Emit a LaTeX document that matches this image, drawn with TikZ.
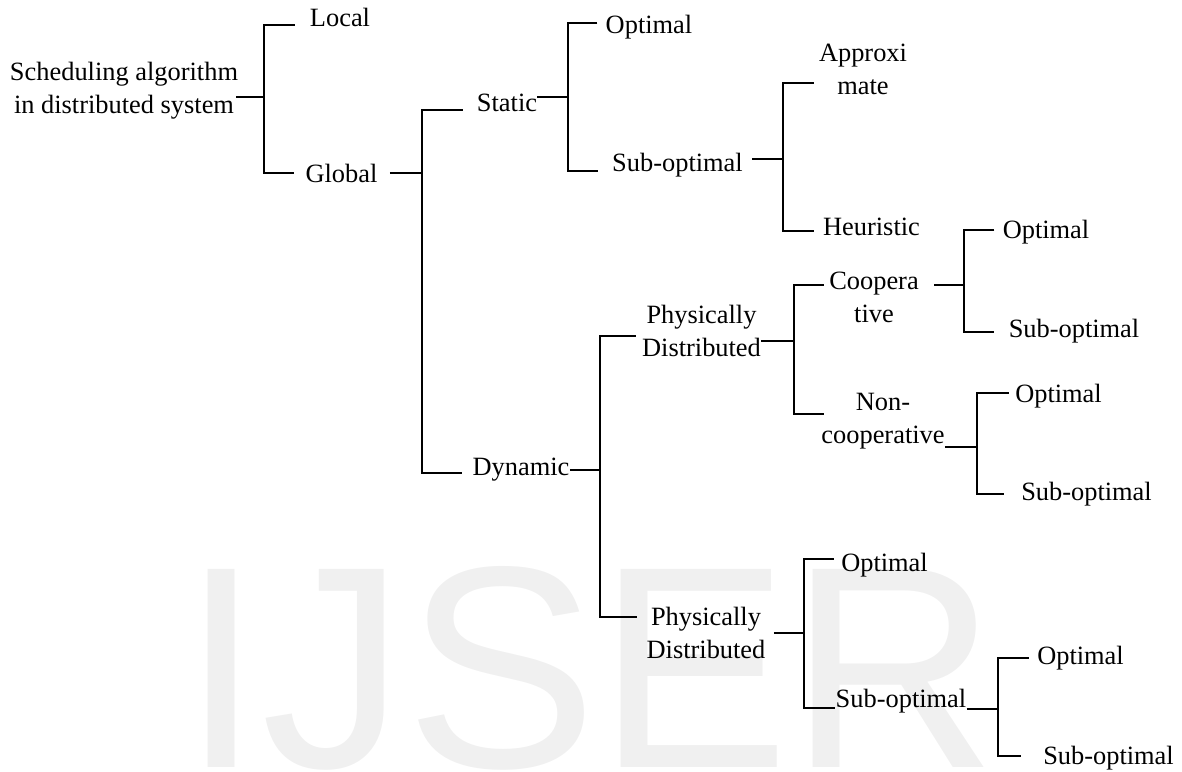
\documentclass[tikz,border=0pt]{standalone}
\usepackage{fontspec}
\setmainfont{Liberation Serif}
\newfontfamily\wmfont{Liberation Sans}

\begin{document}
\begin{tikzpicture}[x=0.5pt, y=-0.5pt,
  lbl/.style={font=\fontsize{13.2}{16.5}\selectfont, inner sep=0pt, align=center},
  link/.style={line width=0.9pt},
  wmark/.style={font=\wmfont\fontsize{144}{150}\selectfont, text=black!6, inner sep=0pt, anchor=base west}
]
  \useasboundingbox (0,0) rectangle (1182,771);

  % Watermark
  \node[wmark] (wm) at (181,767) {IJSER};

  % Root and first level
  \node[lbl] (root) at (124,90.5) {Scheduling algorithm\\in distributed system};
  \node[lbl] (local) at (340,17) {Local};
  \node[lbl] (glob) at (341.5,173) {Global};

  % Static branch
  \node[lbl] (stat) at (507,103) {Static};
  \node[lbl] (sopt) at (649,27) {Optimal};
  \node[lbl] (ssub) at (677.5,165) {Sub-optimal};
  \node[lbl] (appr) at (863,69.5) {Approxi\\mate};
  \node[lbl] (heur) at (871.5,227) {Heuristic};

  % Dynamic branch
  \node[lbl] (dyn) at (521,470) {Dynamic};
  \node[lbl] (pd1) at (701.5,330.5) {Physically\\Distributed};
  \node[lbl] (coop) at (874,297.5) {Coopera\\tive};
  \node[lbl] (ncoop) at (883,421) {Non-\\cooperative};
  \node[lbl] (copt) at (1046,232) {Optimal};
  \node[lbl] (csub) at (1074,331) {Sub-optimal};
  \node[lbl] (nopt) at (1058.5,396) {Optimal};
  \node[lbl] (nsub) at (1086.5,494) {Sub-optimal};
  \node[lbl] (pd2) at (706,632.5) {Physically\\Distributed};
  \node[lbl] (popt) at (884.5,565) {Optimal};
  \node[lbl] (psub) at (901,701) {Sub-optimal};
  \node[lbl] (qopt) at (1080.5,658) {Optimal};
  \node[lbl] (qsub) at (1108.5,758) {Sub-optimal};

  % Bracket joints
  \coordinate (jroot) at (264,97);
  \coordinate (jglob) at (422,173);
  \coordinate (jstat) at (568,97);
  \coordinate (jssub) at (783,159);
  \coordinate (jdyn) at (600,470);
  \coordinate (jpd1) at (794,341);
  \coordinate (jcoop) at (964,285);
  \coordinate (jncoop) at (977,447);
  \coordinate (jpd2) at (804,633);
  \coordinate (jpsub) at (998,709);

  % Brackets
  \draw[link] ([xshift=-1pt]root.east |- jroot) -- (jroot);
  \draw[link] ([xshift=-7.5pt,yshift=-4pt]local.west) -| (jroot) |- ([xshift=-5.5pt]glob.west);

  \draw[link] ([xshift=6pt]glob.east |- jglob) -- (jglob);
  \draw[link] ([xshift=-7pt,yshift=-3.5pt]stat.west) -| (jglob) |- ([xshift=-5pt,yshift=-1.5pt]dyn.west);

  \draw[link] (stat.east |- jstat) -- (jstat);
  \draw[link] ([xshift=-4pt,yshift=2pt]sopt.west) -| (jstat) |- ([xshift=-7pt,yshift=-3pt]ssub.west);

  \draw[link] ([xshift=4.5pt]ssub.east |- jssub) -- (jssub);
  \draw[link] ([xshift=-2.5pt,yshift=-6.75pt]appr.west) -| (jssub) |- ([xshift=-4.5pt,yshift=-2pt]heur.west);

  \draw[link] (dyn.east |- jdyn) -- (jdyn);
  \draw[link] ([xshift=-3pt,yshift=-2.75pt]pd1.west) -| (jdyn) |- ([xshift=-4.5pt,yshift=7.75pt]pd2.west);

  \draw[link] (pd1.east |- jpd1) -- (jpd1);
  \draw[link] ([xshift=-2.5pt,yshift=6.25pt]coop.west) -| (jpd1) |- ([xshift=1.5pt,yshift=3.5pt]ncoop.west);

  \draw[link] ([xshift=7.5pt]coop.east |- jcoop) -- (jcoop);
  \draw[link] ([xshift=-4pt,yshift=1pt]copt.west) -| (jcoop) |- ([xshift=-7pt,yshift=-0.5pt]csub.west);

  \draw[link] (ncoop.east |- jncoop) -- (jncoop);
  \draw[link] ([xshift=-3pt,yshift=1.5pt]nopt.west) -| (jncoop) |- ([xshift=-8.5pt]nsub.west);

  \draw[link] ([xshift=4pt]pd2.east |- jpd2) -- (jpd2);
  \draw[link] ([xshift=-3.5pt,yshift=3pt]popt.west) -| (jpd2) |- ([yshift=-3.5pt]psub.west);

  \draw[link] (psub.east |- jpsub) -- (jpsub);
  \draw[link] ([xshift=-4pt]qopt.west) -| (jpsub) |- ([xshift=-11pt,yshift=1pt]qsub.west);
\end{tikzpicture}
\end{document}
